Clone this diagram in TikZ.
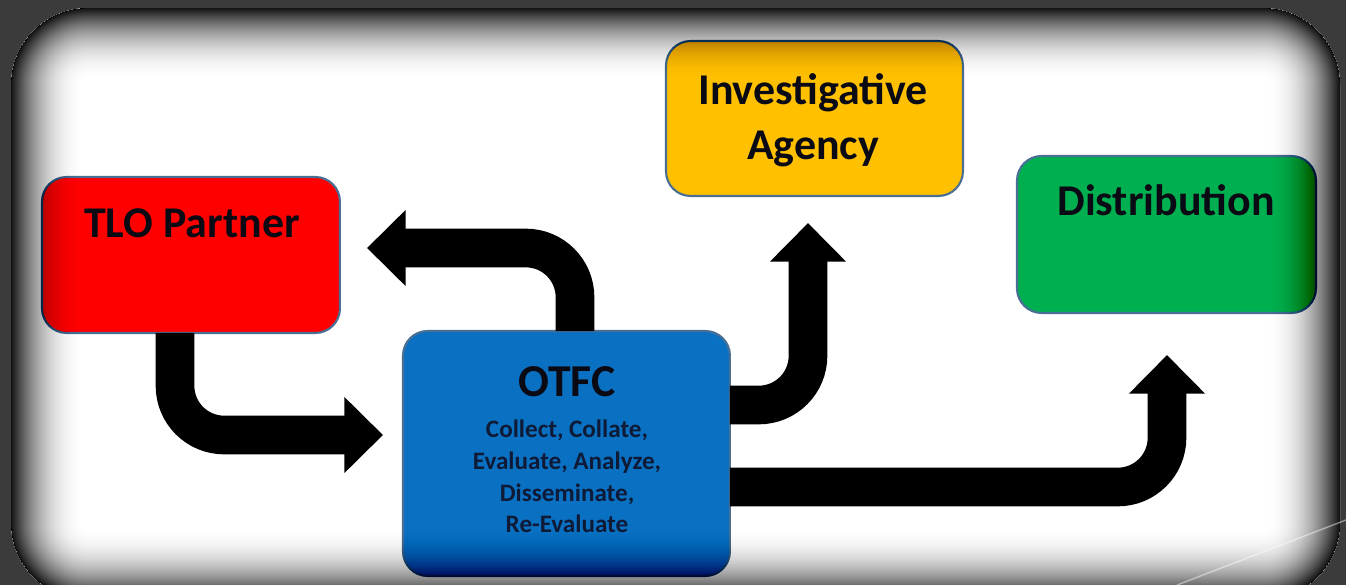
\documentclass[tikz,border=0pt]{standalone}
\usepackage{fontspec}
\setmainfont{Carlito}
\usetikzlibrary{arrows.meta}
\definecolor{framedark}{HTML}{3B3B3B}
\definecolor{tlored}{HTML}{FF0000}
\definecolor{otfcblue}{HTML}{0A70C2}
\definecolor{agencyyellow}{HTML}{FFC000}
\definecolor{distgreen}{HTML}{00B050}
\definecolor{boxedge}{HTML}{4A6F95}
\definecolor{navytext}{HTML}{0E1A36}
\definecolor{titletext}{HTML}{0A0A14}
\begin{document}
\begin{tikzpicture}[x=0.02cm,y=-0.02cm,
  box/.style={draw=boxedge, line width=1.2pt, rounded corners=14pt, inner sep=0pt, outer sep=0pt, anchor=north west},
  flow/.style={draw=black, line width=22pt, rounded corners=28pt, -{Triangle[width=42pt,length=22pt]}},
  title/.style={font=\bfseries\fontsize{25}{30}\selectfont, text=titletext, anchor=base, inner sep=0pt},
  small/.style={font=\bfseries\fontsize{14.3}{18}\selectfont, text=navytext, align=center, anchor=north, inner sep=0pt}]
\useasboundingbox (0,0) rectangle (1346,585);
% frame and interior
\fill[framedark] (0,0) rectangle (1346,585);
\fill[white, rounded corners=44pt] (11,8) rectangle (1340,600);

% boxes
\node[box, fill=tlored, minimum width=5.96cm, minimum height=3.12cm] (tlo) at (42,177) {};
\node[box, fill=otfcblue, minimum width=6.54cm, minimum height=4.9cm] (otfc) at (403,331) {};
\node[box, fill=agencyyellow, minimum width=5.94cm, minimum height=3.1cm] (agency) at (666,41) {};
\node[box, fill=distgreen, minimum width=5.98cm, minimum height=3.14cm] (dist) at (1017,156) {};

% labels
\node[title] (tlotext) at (192,237) {TLO Partner};
\node[title] (agencytext1) at (813,104) {Investigative};
\node[title] (agencytext2) at (813,159) {Agency};
\node[title] (disttext) at (1166,215) {Distribution};
\node[title, font=\bfseries\fontsize{26}{30}\selectfont] (otfctext) at (567,396) {OTFC};
\node[small] (otfctasks) at (567,420) {Collect, Collate,\\Evaluate, Analyze,\\Disseminate,\\Re-Evaluate};

% connector helper coordinates
\coordinate (aX) at (175,0);
\coordinate (tipA) at (383,435);
\coordinate (bX) at (575,0);
\coordinate (tipB) at (367,248);
\coordinate (cY) at (0,405);
\coordinate (tipC) at (808,223);
\coordinate (dY) at (0,487);
\coordinate (tipD) at (1167,355);

% arrows
\draw[flow] (tlo.south -| aX) |- (tipA);
\draw[flow] (otfc.north -| bX) |- (tipB);
\draw[flow] (otfc.east |- cY) -| (tipC);
\draw[flow] (otfc.east |- dY) -| (tipD);

% vignette
\begin{scope}
\clip[rounded corners=44pt] (11,8) rectangle (1340,600);
\foreach \i in {1,...,239}
  \draw[black, opacity=0.005, line width={88*(1-exp(0.431*ln(\i/240)))*1pt}, rounded corners=44pt] (11,8) rectangle (1340,600);
\end{scope}
\draw[white, opacity=0.45, line width=0.8pt] (1177,585) -- (1346,520);
\end{tikzpicture}
\end{document}
